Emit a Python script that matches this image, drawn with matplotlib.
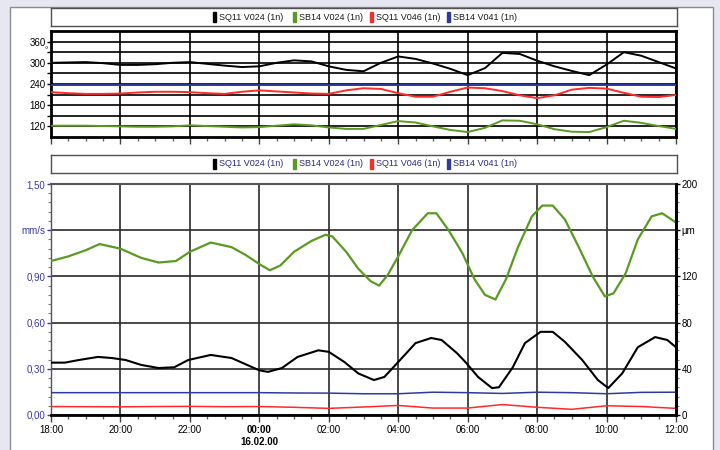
import numpy as np
import matplotlib
matplotlib.use('Agg')
import matplotlib.pyplot as plt
from matplotlib.patches import Rectangle
from matplotlib import font_manager

# ---- data (hours after 18:00 on 15.02.00) ----
series_names = ['SQ11 V024 (1n)', 'SB14 V024 (1n)', 'SQ11 V046 (1n)', 'SB14 V041 (1n)']
series_colors = ['#000000', '#5b9a22', '#ff2a2a', '#2e3a9e']

time_labels = ['18:00', '20:00', '22:00', '00:00', '02:00', '04:00', '06:00', '08:00', '10:00', '12:00']
date_label = '16.02.00'

# top panel: phase angle (degrees)
top_hours = [0, 0.5, 1, 1.5, 2, 2.5, 3, 3.5, 4, 4.5, 5, 5.5, 6, 6.5, 7, 7.5, 8, 8.5, 9,
             9.5, 10, 10.5, 11, 11.5, 12, 12.5, 13, 13.5, 14, 14.5, 15, 15.5, 16, 16.5, 17, 17.5, 18]
top_black = [300, 301, 302, 299, 294, 294, 296, 300, 302, 297, 292, 288, 290, 300, 307, 304, 290, 280, 276,
             300, 318, 311, 298, 283, 265, 285, 328, 325, 306, 290, 277, 265, 295, 330, 320, 302, 284]
top_green = [122, 122, 122, 121, 120, 119, 119, 120, 123, 121, 119, 117, 118, 122, 126, 123, 117, 113, 113,
             124, 135, 131, 120, 110, 104, 116, 137, 136, 126, 112, 105, 104, 118, 136, 130, 121, 113]
top_red = [217, 214, 212, 212, 213, 216, 218, 218, 217, 214, 212, 218, 222, 219, 216, 213, 212, 222, 228,
           226, 214, 204, 204, 218, 230, 228, 220, 208, 200, 208, 224, 229, 227, 215, 204, 203, 209]
top_blue = [236, 236, 236, 236, 236, 236, 236, 236, 236, 236, 236, 236, 236, 236, 236, 236, 236, 236, 236,
            236, 236, 236, 236, 236, 236, 236, 236, 236, 236, 236, 236, 236, 236, 236, 236, 236, 236]

# bottom panel: amplitude (mm/s on left scale)
green_hours = [0, 0.5, 1.0, 1.4, 2.0, 2.6, 3.1, 3.6, 4.0, 4.6, 5.2, 5.6, 6.0, 6.3, 6.6, 7.0, 7.5, 7.9,
               8.1, 8.5, 8.85, 9.2, 9.45, 9.7, 10.0, 10.4, 10.85, 11.1, 11.45, 11.85, 12.2, 12.5, 12.8,
               13.1, 13.45, 13.85, 14.15, 14.45, 14.8, 15.2, 15.6, 15.95, 16.2, 16.55, 16.9, 17.3, 17.6, 18.0]
green_vals = [1.00, 1.03, 1.07, 1.11, 1.08, 1.02, 0.99, 1.00, 1.06, 1.12, 1.09, 1.04, 0.98, 0.94, 0.97,
              1.06, 1.13, 1.17, 1.16, 1.06, 0.95, 0.87, 0.84, 0.91, 1.03, 1.20, 1.31, 1.31, 1.20, 1.05,
              0.88, 0.78, 0.75, 0.88, 1.09, 1.29, 1.36, 1.36, 1.27, 1.09, 0.90, 0.77, 0.79, 0.92, 1.14,
              1.29, 1.31, 1.25]
black_hours = [0, 0.4, 0.8, 1.35, 1.75, 2.15, 2.6, 3.1, 3.55, 3.95, 4.6, 5.2, 5.65, 6.0, 6.25, 6.65, 7.1,
               7.7, 8.0, 8.45, 8.85, 9.3, 9.6, 10.0, 10.5, 10.95, 11.25, 11.7, 11.95, 12.3, 12.7, 12.9,
               13.3, 13.65, 14.1, 14.45, 14.8, 15.3, 15.75, 16.05, 16.45, 16.9, 17.4, 17.75, 18.0]
black_vals = [0.34, 0.34, 0.357, 0.377, 0.37, 0.357, 0.325, 0.305, 0.31, 0.357, 0.39, 0.37, 0.325, 0.29,
              0.28, 0.305, 0.377, 0.42, 0.41, 0.344, 0.27, 0.227, 0.247, 0.344, 0.467, 0.50, 0.487, 0.40,
              0.34, 0.247, 0.175, 0.18, 0.31, 0.467, 0.54, 0.54, 0.475, 0.357, 0.227, 0.175, 0.27, 0.44,
              0.506, 0.487, 0.44]
flat_hours = list(range(19))
red_vals = [0.055, 0.054, 0.053, 0.055, 0.056, 0.054, 0.055, 0.050, 0.043, 0.052, 0.062, 0.045, 0.045,
            0.068, 0.050, 0.037, 0.060, 0.055, 0.043]
blue_vals = [0.145, 0.145, 0.145, 0.145, 0.145, 0.145, 0.145, 0.143, 0.142, 0.138, 0.138, 0.148, 0.145,
             0.140, 0.148, 0.145, 0.138, 0.147, 0.148]

# ---- fonts ----
installed = {f.name for f in font_manager.fontManager.ttflist}
fam = 'Liberation Sans Narrow' if 'Liberation Sans Narrow' in installed else 'Liberation Sans'
plt.rcParams['font.family'] = [fam, 'DejaVu Sans']
fs = 7
fs_leg = 6.5


def box(x0, y0, x1, y1):
    # pixel box -> figure fraction
    return [x0 / 720, 1 - y1 / 450, (x1 - x0) / 720, (y1 - y0) / 450]


fig = plt.figure(figsize=(7.2, 4.5), dpi=100, facecolor='#e6e7f1')
panel = Rectangle((10 / 720, -0.02), 703 / 720, 1 - 7 / 450 + 0.02, transform=fig.transFigure,
                  facecolor='white', edgecolor='#8c8c8c', lw=1, zorder=-10)
fig.patches.append(panel)


def legend_box(rect, txtcolor):
    lax = fig.add_axes(rect)
    lax.set_xlim(51, 677)
    lax.set_ylim(0, 1)
    lax.set_xticks([])
    lax.set_yticks([])
    for s in lax.spines.values():
        s.set_color('#505050')
        s.set_linewidth(1)
    for x0, name, c in zip([213, 293, 370, 447], series_names, series_colors):
        lax.add_patch(Rectangle((x0, 0.2), 3, 0.6, color=c))
        lax.text(x0 + 6, 0.5, name, va='center', ha='left', fontsize=fs_leg, color=txtcolor)


legend_box(box(51, 8, 677, 26), '#1a1a1a')
legend_box(box(51, 155, 677, 173), '#2a2a80')

# ---- top panel ----
ax1 = fig.add_axes(box(51, 31, 676, 137))
ax1.set_xlim(0, 18)
ax1.set_ylim(90, 390)
for h, v, c in zip([top_hours] * 4, [top_black, top_green, top_red, top_blue], series_colors):
    ax1.plot(h, v, color=c, lw=1.4, zorder=3)
ax1.set_yticks(np.arange(120, 361, 30))
ax1.set_yticklabels(['120', '', '180', '', '240', '', '300', '', '360'])
ax1.set_xticks(np.arange(0, 19, 2))
ax1.set_xticks(np.arange(0, 18.1, 0.5), minor=True)
ax1.set_xticklabels([])
ax1.grid(True, which='major', color='black', lw=1.2)
ax1.tick_params(axis='y', which='major', length=3, width=1, pad=1, labelsize=fs, colors='black')
ax1.tick_params(axis='x', which='major', length=5, width=1, color='#444')
ax1.tick_params(axis='x', which='minor', length=3, width=1, color='#666')
for s in ax1.spines.values():
    s.set_linewidth(2)
    s.set_color('black')
ax1.annotate('°', xy=(0, 360), xycoords=('axes fraction', 'data'), xytext=(-5, -9),
             textcoords='offset pixels', ha='center', va='center', fontsize=6)

# ---- bottom panel ----
ax2 = fig.add_axes(box(51, 184, 676, 415))
ax2.set_xlim(0, 18)
ax2.set_ylim(0, 1.5)
ax2.plot(flat_hours, red_vals, color=series_colors[2], lw=1.1, zorder=3)
ax2.plot(flat_hours, blue_vals, color=series_colors[3], lw=1.1, zorder=3)
ax2.plot(black_hours, black_vals, color=series_colors[0], lw=1.5, zorder=4)
ax2.plot(green_hours, green_vals, color=series_colors[1], lw=1.6, zorder=4)

ax2.set_yticks([0, 0.3, 0.6, 0.9, 1.2, 1.5])
ax2.set_yticklabels(['0,00', '0,30', '0,60', '0,90', 'mm/s', '1,50'])
ax2.set_yticks(np.arange(0, 1.51, 0.06), minor=True)
ax2.set_xticks(np.arange(0, 19, 2))
ax2.set_xticklabels(time_labels)
ax2.set_xticks(np.arange(0, 18.1, 0.5), minor=True)
ax2.grid(True, which='major', color='#2a2a2a', lw=1.2)
ax2.tick_params(axis='y', which='major', length=3, width=1, pad=1, labelsize=fs, colors='#3a3a9a')
ax2.tick_params(axis='y', which='minor', length=2, width=0.8, color='#777')
ax2.tick_params(axis='x', which='major', length=5, width=1, pad=2, labelsize=fs, color='#444')
ax2.tick_params(axis='x', which='minor', length=3, width=1, color='#666')
for lab in ax2.get_xticklabels():
    if lab.get_text() == '00:00':
        lab.set_fontweight('bold')
ax2.annotate(date_label, xy=(6, 0), xycoords=('data', 'axes fraction'), xytext=(0, -27),
             textcoords='offset pixels', ha='center', va='center', fontsize=fs, fontweight='bold')
ax2.spines['left'].set_color('#555')
ax2.spines['left'].set_linewidth(1)
ax2.spines['top'].set_color('#555')
ax2.spines['top'].set_linewidth(1.5)
ax2.spines['bottom'].set_linewidth(2)
ax2.spines['right'].set_linewidth(2)

axr = ax2.twinx()
axr.set_ylim(0, 200)
axr.set_yticks([0, 40, 80, 120, 160, 200])
axr.set_yticklabels(['0', '40', '80', '120', 'µm', '200'])
axr.set_yticks(np.arange(0, 201, 8), minor=True)
axr.tick_params(axis='y', which='major', length=3, width=1, pad=1, labelsize=fs, colors='black')
axr.tick_params(axis='y', which='minor', length=2, width=0.8, color='#777')
axr.spines['right'].set_linewidth(2)
for k in ['left', 'top', 'bottom']:
    axr.spines[k].set_visible(False)

fig.savefig('out.png', dpi=100, facecolor=fig.get_facecolor())
